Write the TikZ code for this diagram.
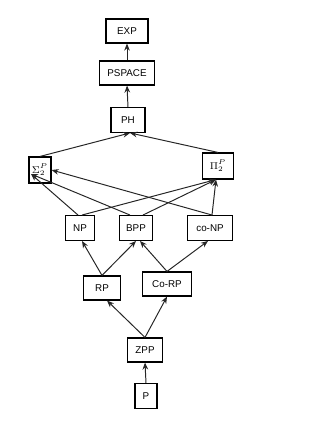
\documentclass[tikz,border=0pt]{standalone}
\usepackage{fontspec}
\setmainfont{Liberation Sans}
\usetikzlibrary{arrows.meta,positioning,calc}

\begin{document}
\begin{tikzpicture}[x=0.025cm, y=-0.025cm,
    cbox/.style={draw=black, line width=0.8pt, fill=white, minimum height=0.6cm, inner sep=1pt, align=center, font=\scriptsize},
    up/.style={-{Stealth[length=5pt,width=4pt]}, line width=0.7pt, black!85}]
  \useasboundingbox (0,0) rectangle (316,427);

  %% Top chain
  \node[cbox, minimum width=1.05cm] (exp) at (127,31) {EXP};
  \node[cbox, minimum width=1.38cm] (pspace) at (127,73) {PSPACE};
  \node[cbox, minimum width=0.85cm, minimum height=0.62cm] (ph) at (128,120) {PH};

  %% Second level of the hierarchy
  \node[cbox, minimum width=0.55cm, minimum height=0.65cm] (sig) at (40,170) {$\Sigma^{P}_{2}$};
  \node[cbox, minimum width=0.78cm, minimum height=0.65cm] (pi) at (218,166) {$\Pi^{P}_{2}$};

  %% NP, BPP, co-NP
  \node[cbox, minimum width=0.73cm, minimum height=0.62cm] (np) at (80,228) {NP};
  \node[cbox, minimum width=0.83cm, minimum height=0.62cm] (bpp) at (136,228) {BPP};
  \node[cbox, minimum width=1.13cm, minimum height=0.62cm] (conp) at (210,228) {co-NP};

  %% Randomised classes
  \node[cbox, minimum width=0.93cm] (rp) at (102,288) {RP};
  \node[cbox, minimum width=1.23cm] (corp) at (167,284) {Co-RP};
  \node[cbox, minimum width=0.88cm] (zpp) at (145,350) {ZPP};
  \node[cbox, minimum width=0.55cm, minimum height=0.62cm] (p) at (146,396) {P};

  \coordinate (sigtip) at ($(sig.center)+(-9,4)$);

  %% Arrows
  \draw[up] (pspace.north) -- (exp.south);
  \draw[up] (ph.north) -- (pspace.south);
  \draw[up] (sig.north) -- ($(ph.south)+(2,0)$);
  \draw[up] (pi.north) -- ($(ph.south)+(2,0)$);

  \draw[up] ($(np.north)+(-2,0)$) -- (sigtip);
  \draw[up] ($(np.north)+(2,0)$) -- ($(pi.south)+(-2,0)$);
  \draw[up] ($(bpp.north)+(-6,0)$) -- (sigtip);
  \draw[up] ($(bpp.north)+(7,0)$) -- ($(pi.south)+(-2,0)$);
  \draw[up] ($(conp.north)+(2,0)$) -- (sig.east);
  \draw[up] ($(conp.north)+(2,0)$) -- ($(pi.south)+(-2,0)$);

  \draw[up] (rp.north) -- ($(np.south)+(2,0)$);
  \draw[up] (rp.north) -- (bpp.south);
  \draw[up] (corp.north) -- ($(bpp.south)+(4,0)$);
  \draw[up] (corp.north) -- ($(conp.south)+(-2,0)$);

  \draw[up] (zpp.north) -- ($(rp.south)+(5,0)$);
  \draw[up] (zpp.north) -- (corp.south);
  \draw[up] (p.north) -- (zpp.south);
\end{tikzpicture}
\end{document}
